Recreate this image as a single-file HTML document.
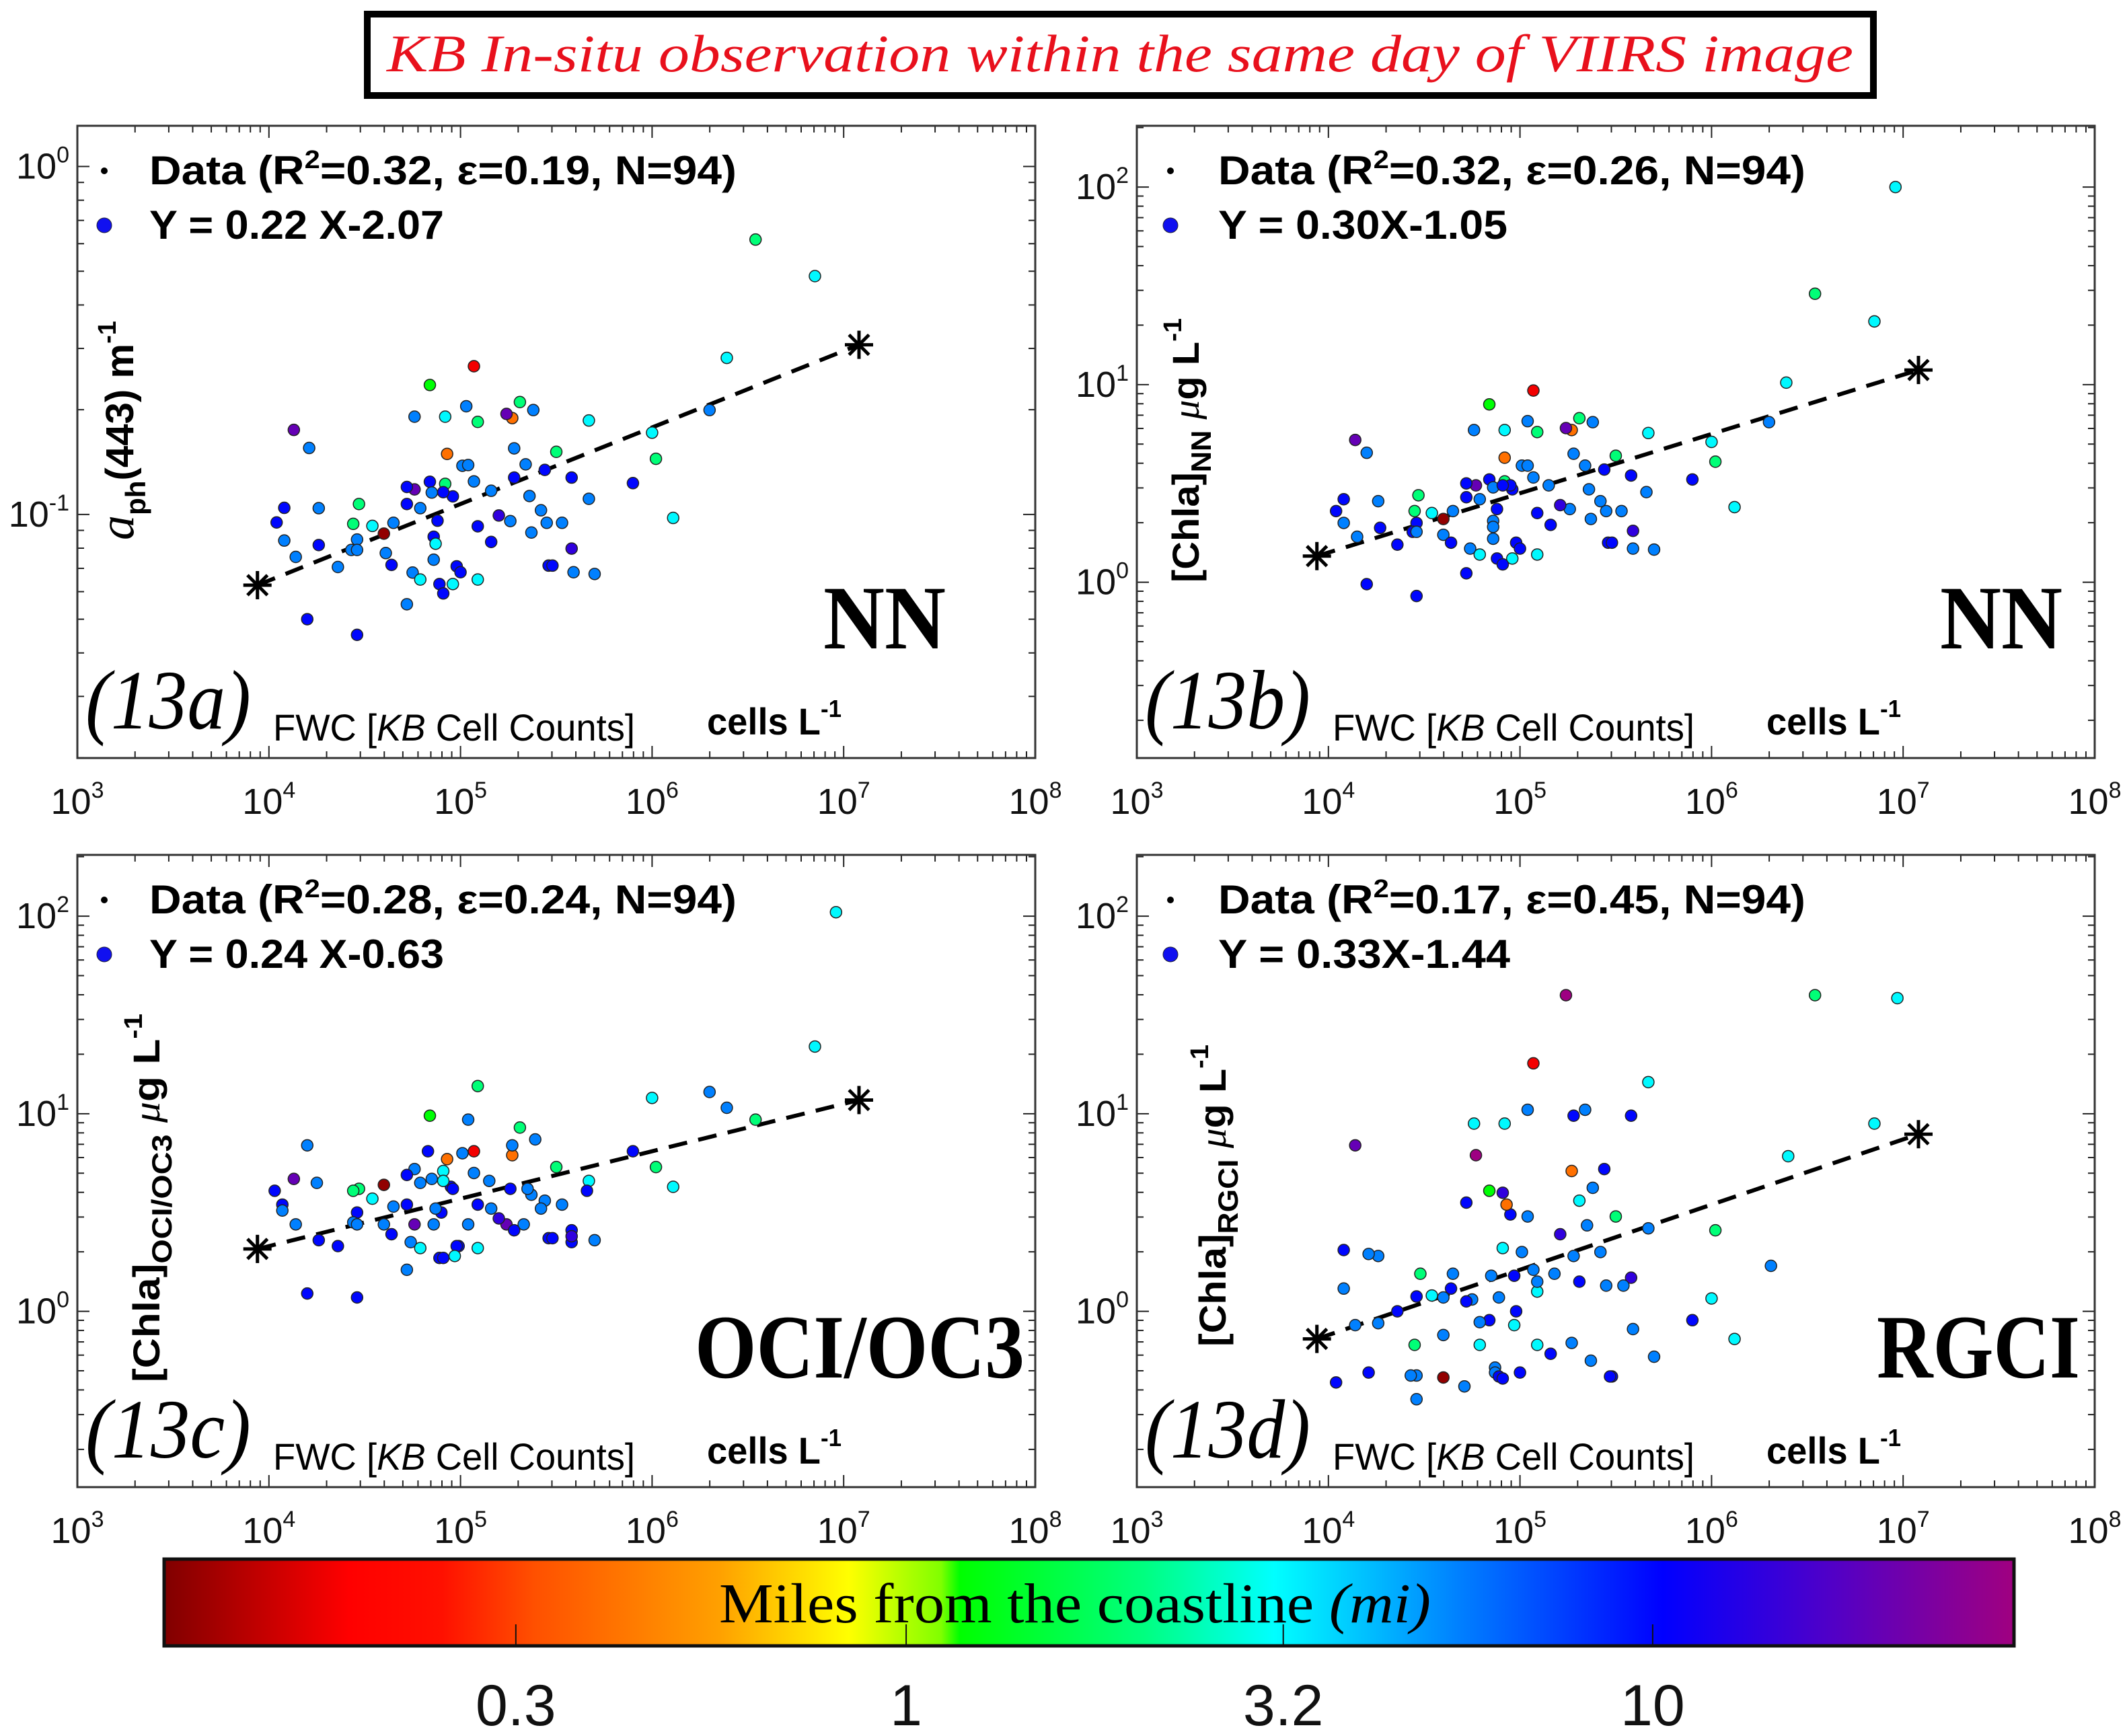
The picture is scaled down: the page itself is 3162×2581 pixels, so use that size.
<!DOCTYPE html>
<html><head><meta charset="utf-8"><title>KB in-situ vs VIIRS</title>
<style>
html,body{margin:0;padding:0;background:#fff;}
svg{display:block;}
text{font-family:"Liberation Sans",Arial,sans-serif;}
.serif{font-family:"Liberation Serif","Times New Roman",serif;}
</style></head>
<body>
<svg id="fig" xmlns="http://www.w3.org/2000/svg" width="3162" height="2581" viewBox="0 0 3162 2581">
<defs>
<linearGradient id="cmap" x1="0" x2="1" y1="0" y2="0">
<stop offset="0" stop-color="#800000"/><stop offset="0.1" stop-color="#ff0000"/><stop offset="0.15" stop-color="#ff1000"/><stop offset="0.2" stop-color="#ff5000"/><stop offset="0.3" stop-color="#ffa000"/><stop offset="0.37" stop-color="#ffff00"/><stop offset="0.42" stop-color="#80ff00"/><stop offset="0.43" stop-color="#00ff00"/><stop offset="0.53" stop-color="#00ff80"/><stop offset="0.6" stop-color="#00ffff"/><stop offset="0.7" stop-color="#0080ff"/><stop offset="0.81" stop-color="#0000ff"/><stop offset="0.9" stop-color="#5000c8"/><stop offset="1" stop-color="#a00080"/>
</linearGradient>
</defs>
<g>
<rect x="546" y="21" width="2239" height="121" fill="#fff" stroke="#000" stroke-width="10"/>
<text class="serif" x="1665" y="106" text-anchor="middle" font-size="78" font-style="italic" fill="#e8101c" textLength="2180" lengthAdjust="spacingAndGlyphs">KB In-situ observation within the same day of VIIRS image</text>
</g>
<g id="panels"></g>
<g id="cbar"></g>
</svg>
<script>
// ---------- Data (log10 of cell counts, log10 of Y, miles from coast) ----------
const logCellsA = [6.54,6.85,6.39,6.30,6.00,6.02,6.11,5.90,5.67,5.67,5.58,5.58,5.59,5.70,5.50,5.44,5.42,5.45,5.53,5.46,5.48,5.38,5.31,5.27,5.24,5.28,5.34,5.28,5.36,5.26,5.37,5.20,5.16,5.16,5.09,5.09,5.07,5.03,5.09,5.07,5.01,5.04,4.96,4.98,5.00,4.96,4.84,4.92,4.76,4.93,4.92,4.91,4.84,4.85,4.76,4.72,4.72,4.79,4.88,4.86,4.87,4.86,4.89,4.91,4.75,4.79,4.72,4.65,4.54,4.61,4.64,4.60,4.47,4.44,4.46,4.43,4.46,4.36,4.46,4.26,4.26,4.14,4.08,4.08,4.04,4.21,4.13,4.20];
const logAphA = [-0.21,-0.315,-0.55,-0.70,-0.765,-0.84,-1.01,-0.91,-0.73,-0.955,-0.894,-1.098,-1.166,-1.171,-0.82,-0.872,-0.988,-1.024,-1.024,-1.147,-1.147,-0.70,-0.677,-0.723,-0.711,-0.81,-0.856,-0.894,-0.947,-1.019,-1.052,-1.003,-0.932,-1.079,-1.034,-1.187,-0.574,-0.689,-0.734,-0.905,-0.86,-0.858,-0.948,-1.149,-1.166,-1.2,-0.628,-0.719,-0.719,-0.826,-0.912,-0.936,-0.906,-0.937,-0.928,-0.921,-0.97,-0.982,-1.018,-1.064,-1.084,-1.13,-1.2,-1.227,-1.167,-1.187,-1.258,-1.024,-1.033,-1.111,-1.145,-1.055,-0.97,-1.027,-1.072,-1.102,-1.102,-1.151,-1.346,-0.982,-1.088,-1.122,-1.075,-0.981,-1.023,-0.809,-0.757,-1.301];
const milesA = [2,3.2,3.2,5.5,3.2,2,3.2,10,3.2,5.5,10,14,5.5,5.5,2,10,5.5,5.5,5.5,10,10,5.5,2,0.4,20,5.5,5.5,10,5.5,5.5,5.5,14,5.5,10,10,3.2,0.17,5.5,2,5.5,5.5,5.5,10,10,10,3.2,1.2,3.2,5.5,0.4,2,10,10,5.5,20,10,10,5.5,10,10,3.2,5.5,10,10,5.5,3.2,5.5,5.5,3.2,5.5,10,0.11,2,2,5.5,5.5,5.5,5.5,10,5.5,10,5.5,5.5,10,10,5.5,20,10];

const logCellsB = [6.96,6.54,6.85,6.39,6.30,6.00,6.02,6.12,5.90,5.67,5.66,5.58,5.59,5.59,5.70,5.50,5.44,5.42,5.45,5.53,5.46,5.48,5.38,5.31,5.27,5.24,5.28,5.34,5.36,5.26,5.37,5.21,5.15,5.16,5.09,5.09,5.07,5.04,5.09,5.07,5.01,5.04,4.96,4.98,5.00,4.96,4.84,4.92,4.76,4.92,4.92,4.95,4.84,4.86,4.77,4.72,4.72,4.79,4.91,4.88,4.86,4.86,4.86,4.88,4.91,4.74,4.79,4.72,4.65,4.54,4.60,4.64,4.60,4.47,4.45,4.46,4.44,4.46,4.36,4.46,4.26,4.27,4.15,4.08,4.08,4.04,4.20,4.14,4.20];
const logChlB = [2.00,1.46,1.32,1.01,0.81,0.71,0.61,0.38,0.52,0.755,0.456,0.54,0.26,0.17,0.165,0.64,0.57,0.41,0.36,0.36,0.20,0.20,0.81,0.83,0.77,0.78,0.65,0.59,0.47,0.37,0.32,0.39,0.49,0.29,0.35,0.14,0.97,0.815,0.76,0.53,0.59,0.59,0.47,0.20,0.17,0.12,0.90,0.77,0.77,0.63,0.51,0.49,0.52,0.48,0.49,0.50,0.43,0.42,0.49,0.37,0.31,0.28,0.22,0.12,0.09,0.17,0.14,0.045,0.36,0.35,0.24,0.20,0.32,0.44,0.36,0.30,0.255,0.255,0.19,-0.07,0.41,0.275,0.23,0.30,0.42,0.36,0.655,0.72,-0.01];
const milesB = [3.2,2,3.2,3.2,5.5,3.2,2,3.2,10,3.2,5.5,10,14,5.5,5.5,2,10,5.5,5.5,5.5,10,10,5.5,2,0.4,20,5.5,5.5,5.5,5.5,5.5,14,5.5,10,10,3.2,0.17,5.5,2,5.5,5.5,5.5,10,10,10,3.2,1.2,3.2,5.5,0.4,2,10,10,5.5,20,10,10,5.5,10,10,5.5,5.5,5.5,10,10,5.5,3.2,10,5.5,3.2,5.5,10,0.11,2,2,10,10,5.5,10,10,5.5,10,5.5,5.5,10,10,5.5,20,10];

const logCellsC = [6.96,6.85,6.54,6.39,6.30,6.00,6.02,6.11,5.90,5.67,5.66,5.53,5.58,5.58,5.58,5.70,5.50,5.44,5.42,5.46,5.48,5.39,5.31,5.27,5.24,5.33,5.37,5.35,5.27,5.26,5.28,5.20,5.16,5.15,5.09,5.09,5.07,5.04,5.07,5.04,5.01,5.09,4.95,4.99,4.98,4.97,4.84,4.91,4.76,4.93,4.91,4.96,4.83,4.85,4.76,4.72,4.72,4.79,4.90,4.87,4.86,4.89,4.91,4.74,4.79,4.72,4.65,4.54,4.60,4.64,4.60,4.47,4.44,4.46,4.44,4.46,4.36,4.46,4.25,4.26,4.14,4.07,4.07,4.03,4.20,4.13,4.20];
const logChlC = [2.02,1.34,0.97,1.03,1.11,1.08,0.73,0.63,0.81,0.66,0.61,0.54,0.41,0.35,0.38,0.36,0.73,0.56,0.52,0.37,0.37,0.87,0.93,0.79,0.44,0.44,0.59,0.62,0.84,0.62,0.41,0.47,0.52,0.66,0.54,0.32,0.81,0.97,0.70,0.44,0.80,1.14,0.63,0.33,0.33,0.28,0.99,0.71,0.72,0.77,0.66,0.62,0.81,0.67,0.44,0.69,0.54,0.65,0.50,0.52,0.44,0.27,0.27,0.35,0.32,0.21,0.53,0.57,0.44,0.39,0.64,0.62,0.61,0.50,0.45,0.44,0.33,0.07,0.65,0.36,0.44,0.54,0.51,0.61,0.84,0.67,0.09];
const milesC = [3.2,3.2,2,5.5,5.5,3.2,2,3.2,10,3.2,10,5.5,10,10,14,5.5,2,5.5,5.5,10,10,5.5,2,0.4,20,5.5,5.5,5.5,5.5,10,10,14,5.5,5.5,10,3.2,0.17,5.5,5.5,5.5,5.5,2,10,10,10,3.2,1.2,3.2,5.5,0.4,3.2,10,10,5.5,20,10,10,5.5,10,5.5,5.5,10,10,5.5,3.2,5.5,5.5,3.2,5.5,10,0.11,2,2,10,5.5,5.5,10,10,5.5,10,5.5,10,5.5,10,5.5,20,10];

const logCellsD = [6.97,6.54,5.24,5.07,5.67,6.85,6.40,6.02,6.31,6.00,6.12,5.90,5.70,5.67,5.58,5.58,5.59,5.54,5.45,5.50,5.48,5.47,5.44,5.42,5.38,5.37,5.35,5.34,5.31,5.31,5.28,5.28,5.27,5.27,5.21,5.18,5.16,5.09,5.09,5.09,5.07,5.04,5.04,5.01,5.00,4.98,4.97,4.97,4.95,4.93,4.91,4.92,4.91,4.84,4.85,4.89,4.84,4.87,4.87,4.89,4.91,4.77,4.76,4.79,4.79,4.75,4.72,4.72,4.71,4.65,4.64,4.60,4.60,4.60,4.54,4.48,4.46,4.45,4.46,4.43,4.46,4.36,4.26,4.26,4.21,4.21,4.14,4.14,4.08,4.08,4.04];
const logChlD = [1.585,1.60,1.60,1.255,1.16,0.95,0.785,0.41,0.23,0.065,-0.14,-0.045,-0.23,0.42,0.99,0.17,-0.09,0.13,0.13,0.48,-0.33,-0.33,0.72,0.30,0.625,-0.25,0.435,1.02,0.56,0.15,0.99,0.28,0.71,-0.16,0.39,0.19,-0.215,0.10,0.15,-0.17,0.21,1.02,0.48,0.30,-0.31,0.00,0.18,-0.07,0.49,0.54,0.32,0.95,0.60,0.61,0.18,0.07,-0.045,-0.285,-0.31,-0.33,-0.34,0.79,0.95,-0.055,-0.17,0.06,0.55,0.05,-0.38,0.19,0.115,-0.12,0.07,-0.335,0.08,0.19,0.075,-0.17,-0.325,-0.325,-0.445,0.00,0.28,-0.06,0.29,-0.31,-0.07,0.84,0.31,0.115,-0.36];
const milesD = [3.2,2,30,0.17,3.2,3.2,3.2,2,5.5,3.2,3.2,10,5.5,5.5,10,14,5.5,5.5,5.5,2,10,10,10,5.5,5.5,5.5,5.5,5.5,3.2,10,10,5.5,0.4,5.5,14,5.5,10,3.2,5.5,3.2,5.5,5.5,5.5,5.5,10,10,10,3.2,10,0.4,3.2,3.2,14,1.2,5.5,5.5,10,5.5,5.5,10,10,30,3.2,5.5,3.2,5.5,10,10,5.5,5.5,10,5.5,5.5,0.11,3.2,2,10,2,5.5,5.5,5.5,10,5.5,5.5,5.5,10,5.5,20,10,5.5,10];

// regression parameters (Y = slope*X + intercept, in log10 space) and X extent
const slopes = [0.22, 0.30, 0.24, 0.33];
const intercepts = [-2.07, -1.05, -0.63, -1.44];
const fitXRange = [3.94, 7.08];
const xTickExps = [3, 4, 5, 6, 7, 8];
const yTickExpsA = [-1, 0];
const yTickExpsBCD = [0, 1, 2];
const cbarTicks = [0.3, 1, 3.2, 10];
const cbarTickLabels = ["0.3", "1", "3.2", "10"];

// ---------- helpers ----------
const NS = "http://www.w3.org/2000/svg";
function mk(tag, attrs, parent){const e=document.createElementNS(NS,tag);for(const k in attrs)e.setAttribute(k,attrs[k]);if(parent)parent.appendChild(e);return e;}
const stops=[[0,[128,0,0]],[0.1,[255,0,0]],[0.15,[255,16,0]],[0.2,[255,80,0]],[0.3,[255,160,0]],[0.37,[255,255,0]],[0.42,[128,255,0]],[0.43,[0,255,0]],[0.53,[0,255,128]],[0.6,[0,255,255]],[0.7,[0,128,255]],[0.81,[0,0,255]],[0.9,[80,0,200]],[1,[160,0,128]]];
const CB_LOGMIN=-0.994, CB_LOGMAX=1.484;
function milesColor(mi){let t=(Math.log10(mi)-CB_LOGMIN)/(CB_LOGMAX-CB_LOGMIN);t=Math.max(0,Math.min(1,t));
  for(let i=1;i<stops.length;i++){if(t<=stops[i][0]){const a=stops[i-1],b=stops[i];const f=(t-a[0])/(b[0]-a[0]);const c=a[1].map((v,j)=>Math.round(v+(b[1][j]-v)*f));return `rgb(${c[0]},${c[1]},${c[2]})`;}}
  return "rgb(160,0,128)";}

const panels=[
 {key:"a",x0:115,y0:187,ymin:-1.70,ymax:0.117,yt:yTickExpsA,xs:logCellsA,ys:logAphA,ms:milesA,
  leg1:["0.32","0.19"],leg2:"Y = 0.22 X-2.07",l2w:438,method:"NN",mx:1224,mw:182,tag:"(13a)"},
 {key:"b",x0:1690,y0:187,ymin:-0.89,ymax:2.31,yt:yTickExpsBCD,xs:logCellsB,ys:logChlB,ms:milesB,
  leg1:["0.32","0.26"],leg2:"Y = 0.30X-1.05",l2w:430,method:"NN",mx:2884,mw:182,tag:"(13b)"},
 {key:"c",x0:115,y0:1271,ymin:-0.89,ymax:2.31,yt:yTickExpsBCD,xs:logCellsC,ys:logChlC,ms:milesC,
  leg1:["0.28","0.24"],leg2:"Y = 0.24 X-0.63",l2w:438,method:"OCI/OC3",mx:1033,mw:490,tag:"(13c)"},
 {key:"d",x0:1690,y0:1271,ymin:-0.89,ymax:2.31,yt:yTickExpsBCD,xs:logCellsD,ys:logChlD,ms:milesD,
  leg1:["0.17","0.45"],leg2:"Y = 0.33X-1.44",l2w:434,method:"RGCI",mx:2790,mw:302,tag:"(13d)"}
];
const W=1424,H=940,XMIN=3,XMAX=8;
const root=document.getElementById("panels");

panels.forEach((p,pi)=>{
  const g=mk("g",{},root);
  
  
  const sx=v=>p.x0+(v-XMIN)/(XMAX-XMIN)*W;
  const sy=v=>p.y0+(p.ymax-v)/(p.ymax-p.ymin)*H;
  const dx=p.x0-115, dy=p.y0-187;
  mk("rect",{x:p.x0,y:p.y0,width:W,height:H,fill:"#fff"},g);
  const tg=mk("g",{stroke:"#222","stroke-width":2},g);
  
  
  for(let e=XMIN;e<=XMAX;e++){for(let m=1;m<=9;m++){const v=e+Math.log10(m);if(v>XMAX+1e-9)break;const x=sx(v);const L=m===1?18:10;
    mk("line",{x1:x,y1:p.y0+H,x2:x,y2:p.y0+H-L},tg);mk("line",{x1:x,y1:p.y0,x2:x,y2:p.y0+L},tg);}}
  for(let e=Math.floor(p.ymin);e<=Math.ceil(p.ymax);e++){for(let m=1;m<=9;m++){const v=e+Math.log10(m);if(v<p.ymin||v>p.ymax)continue;const y=sy(v);const L=m===1?18:10;
    mk("line",{x1:p.x0,y1:y,x2:p.x0+L,y2:y},tg);mk("line",{x1:p.x0+W,y1:y,x2:p.x0+W-L,y2:y},tg);}}
  mk("rect",{x:p.x0,y:p.y0,width:W,height:H,fill:"none",stroke:"#333","stroke-width":3},g);
  xTickExps.forEach(e=>{const t=mk("text",{x:sx(e),y:p.y0+H+83,"text-anchor":"middle","font-size":54,fill:"#111"},g);
    
    
    t.innerHTML=`10<tspan font-size="34" dy="-24">${e}</tspan>`;});
  p.yt.forEach(e=>{const t=mk("text",{x:p.x0-12,y:sy(e)+18,"text-anchor":"end","font-size":54,fill:"#111"},g);
    
    
    t.innerHTML=`10<tspan font-size="34" dy="-24">${e}</tspan>`;});
  const X1=fitXRange[0],X2=fitXRange[1];
  const Y1=slopes[pi]*X1+intercepts[pi],Y2=slopes[pi]*X2+intercepts[pi];
  const fl=mk("line",{x1:sx(X1),y1:sy(Y1),x2:sx(X2),y2:sy(Y2),stroke:"#000","stroke-width":6,"stroke-dasharray":"28 17"},g);
  
  
  [[X1,Y1],[X2,Y2]].forEach(([a,b])=>{const s=mk("g",{stroke:"#000","stroke-width":5},g);
    
    
    const cx=sx(a),cy=sy(b),r=21;
    for(let k=0;k<4;k++){const an=k*Math.PI/4;mk("line",{x1:cx-r*Math.cos(an),y1:cy-r*Math.sin(an),x2:cx+r*Math.cos(an),y2:cy+r*Math.sin(an)},s);}});
  const n=Math.min(p.xs.length,p.ys.length,p.ms.length);
  const pg=mk("g",{},g);
  
  
  for(let i=0;i<n;i++){const c=mk("circle",{cx:sx(p.xs[i]),cy:sy(p.ys[i]),r:8.5,fill:milesColor(p.ms[i]),stroke:"#222","stroke-width":1.5},pg);
    
    }
  const lg=mk("g",{},g);
  
  
  const lx=(pi%2===0)?p.x0+107:p.x0+121;
  const dotx=(pi%2===0)?p.x0+40:p.x0+50;
  const ly1=p.y0+87, ly2=p.y0+168;
  mk("circle",{cx:dotx,cy:ly1-20,r:5,fill:"#000"},lg);
  mk("circle",{cx:dotx,cy:ly2-20,r:11,fill:"#1010f0",stroke:"#223","stroke-width":1},lg);
  const t1=mk("text",{x:lx,y:ly1,"font-size":60,"font-weight":"bold",textLength:873,lengthAdjust:"spacingAndGlyphs"},lg);
  
  
  t1.innerHTML=`Data (R<tspan font-size="38" dy="-24">2</tspan><tspan dy="24">=${p.leg1[0]}, ε=${p.leg1[1]},  N=94)</tspan>`;
  const t2=mk("text",{x:lx,y:ly2,"font-size":60,"font-weight":"bold",textLength:p.l2w,lengthAdjust:"spacingAndGlyphs"},lg);
  
  
  t2.textContent=p.leg2;
  const ml=mk("text",{x:p.mx,y:p.y0+777,"font-size":135,"font-weight":"bold",class:"serif",textLength:p.mw,lengthAdjust:"spacingAndGlyphs"},g);
  
  
  ml.textContent=p.method;
  const tl=mk("text",{x:127+dx,y:1083+dy,"font-size":125,"font-style":"italic",class:"serif",textLength:246,lengthAdjust:"spacingAndGlyphs"},g);
  
  
  tl.textContent=p.tag;
  const xl=mk("text",{x:406+dx,y:1101+dy,"font-size":56,textLength:538,lengthAdjust:"spacingAndGlyphs"},g);
  
  
  xl.innerHTML=`FWC  [<tspan font-style="italic">KB</tspan> Cell Counts]`;
  const cl=mk("text",{x:1051+dx,y:1092+dy,"font-size":56,"font-weight":"bold",textLength:200,lengthAdjust:"spacingAndGlyphs"},g);
  
  
  cl.innerHTML=`cells L<tspan font-size="36" dy="-26">-1</tspan>`;
  let yt;
  if(pi===0){
    yt=mk("text",{x:0,y:0,transform:"translate(198,803) rotate(-90)","font-size":58,"font-weight":"bold",textLength:326,lengthAdjust:"spacingAndGlyphs"},g);
    yt.innerHTML=`<tspan class="serif" font-style="italic" font-weight="normal" font-size="74">a</tspan><tspan font-size="42" dy="18">ph</tspan><tspan dy="-18">(443)   m</tspan><tspan font-size="38" dy="-26">-1</tspan>`;
  } else if(pi===1){
    yt=mk("text",{x:0,y:0,transform:"translate(1782,866) rotate(-90)","font-size":56,"font-weight":"bold",textLength:393,lengthAdjust:"spacingAndGlyphs"},g);
    yt.innerHTML=`[Chla]<tspan font-size="42" dy="18">NN</tspan><tspan dy="-18">    </tspan><tspan font-style="italic" font-weight="normal" class="serif">μ</tspan>g L<tspan font-size="38" dy="-26">-1</tspan>`;
  } else if(pi===2){
    yt=mk("text",{x:0,y:0,transform:"translate(237,2055) rotate(-90)","font-size":56,"font-weight":"bold",textLength:548,lengthAdjust:"spacingAndGlyphs"},g);
    yt.innerHTML=`[Chla]<tspan font-size="42" dy="18">OCI/OC3</tspan><tspan dy="-18">            </tspan><tspan font-style="italic" font-weight="normal" class="serif">μ</tspan>g L<tspan font-size="38" dy="-26">-1</tspan>`;
  } else {
    yt=mk("text",{x:0,y:0,transform:"translate(1822,2002) rotate(-90)","font-size":56,"font-weight":"bold",textLength:449,lengthAdjust:"spacingAndGlyphs"},g);
    yt.innerHTML=`[Chla]<tspan font-size="42" dy="18">RGCI</tspan><tspan dy="-18">       </tspan><tspan font-style="italic" font-weight="normal" class="serif">μ</tspan>g L<tspan font-size="38" dy="-26">-1</tspan>`;
  }
  
  
});

// ---------- colorbar ----------
const cb=document.getElementById("cbar");
const CBX=244,CBY=2318,CBW=2750,CBH=129;
mk("rect",{x:CBX,y:CBY,width:CBW,height:CBH,fill:"url(#cmap)",stroke:"#111","stroke-width":5},cb);
const cx=v=>CBX+(Math.log10(v)-CB_LOGMIN)/(CB_LOGMAX-CB_LOGMIN)*CBW;
cbarTicks.forEach((v,i)=>{
  mk("line",{x1:cx(v),y1:CBY+CBH,x2:cx(v),y2:CBY+CBH-32,stroke:"#111","stroke-width":2},cb);
  const t=mk("text",{x:cx(v),y:2565,"text-anchor":"middle","font-size":86,fill:"#111"},cb);
  
  
  t.textContent=cbarTickLabels[i];
});
const ct=mk("text",{x:1598,y:2412,"text-anchor":"middle","font-size":84,class:"serif",textLength:1058,lengthAdjust:"spacingAndGlyphs"},cb);


ct.innerHTML=`Miles from the coastline  <tspan font-style="italic">(mi)</tspan>`;
</script>
</body></html>
